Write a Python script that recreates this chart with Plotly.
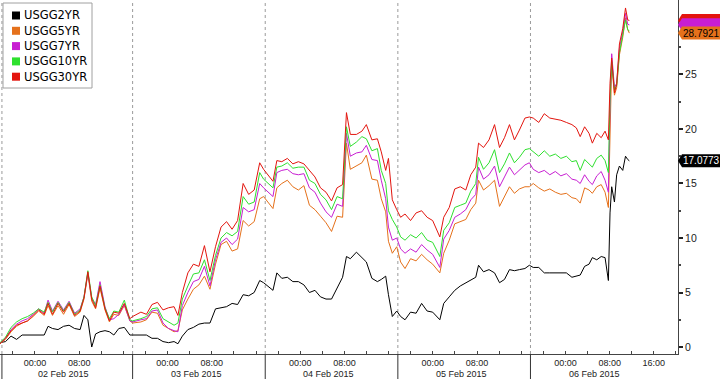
import plotly.graph_objects as go

# Trading-time axis: hours since start of the 02 Feb 2015 session
hours = [0, 1, 2, 3, 4, 5, 6, 7, 8, 8.7, 9.5, 10.5, 11.5, 12.5, 13.5, 14.5, 15.2, 15.9, 16.6, 17.3,
         18.1, 19.0, 19.8, 20.6, 21.5, 22.5, 23.5,
         24, 25.5, 26.5, 27.5, 28.5, 29.5, 30.5, 31.5, 32.2, 33, 34, 35, 36, 37, 38, 39, 40, 41, 42,
         43, 44, 45, 46, 47, 47.7,
         49.4, 50.1, 51, 52, 53, 54, 55, 56, 57, 58, 59, 60, 61, 62, 62.7, 63.4, 64.5, 65.5, 66.3,
         67.3, 68.3, 69, 69.8, 70.3, 71, 71.8,
         72.5, 73.3, 74.3, 75.3, 76.3, 77.3, 78.3, 79.6, 80.3, 81.3, 82.3, 83.3, 84.3, 85.2, 86.1,
         86.6, 87.5, 88.5, 89.5, 90.4, 91.3, 92.2, 93.1, 94, 95, 95.8,
         96.5, 97.5, 98.5, 99.5, 100.5, 101.5, 102.5, 103.5, 104.3, 105, 105.8, 106.6, 107.2, 108,
         108.8, 109.5, 110.1, 110.4, 110.7, 111.2, 111.6, 112.1, 112.7, 113.2, 113.6, 113.9]

usgg2yr = [0.4, 0.5, 1.0, 0.7, 1.1, 1.1, 1.1, 1.1, 1.1, 1.9, 1.7, 1.6, 1.9, 2.0, 1.7, 1.6, 2.9, 2.5, 0.0, 1.2,
           1.4, 1.5, 1.4, 1.1, 1.7, 1.8, 1.1,
           1.1, 1.1, 1.1, 0.8, 0.8, 0.5, 0.4, 0.5, 0.3, 1.0, 1.6, 1.8, 2.1, 2.2, 2.2, 3.5, 3.6, 3.7, 4.0,
           3.9, 4.8, 4.7, 5.0, 6.1, 5.9,
           5.2, 6.8, 6.3, 6.4, 6.0, 6.0, 5.7, 5.0, 5.2, 4.6, 4.4, 4.4, 5.4, 6.4, 8.3, 8.1, 8.7, 8.2, 7.8,
           6.3, 6.0, 6.2, 6.5, 4.8, 2.8, 3.3,
           2.8, 2.5, 3.2, 3.1, 4.0, 3.3, 3.2, 2.5, 4.0, 4.6, 5.2, 5.6, 5.9, 6.2, 6.4,
           7.5, 6.9, 7.1, 6.8, 5.9, 6.2, 7.1, 7.0, 7.1, 7.2, 7.5,
           7.3, 7.3, 6.8, 6.8, 6.8, 6.8, 6.8, 6.4, 6.5, 6.6, 7.4, 7.6, 8.2, 8.0,
           8.3, 8.2, 6.1, 12.3, 14.7, 13.3, 15.8, 16.6, 16.2, 17.5, 17.2, 17.0773]

usgg5yr = [0.3, 0.7, 1.4, 1.9, 2.2, 2.4, 2.8, 3.3, 2.9, 3.8, 2.9, 3.8, 3.0, 3.9, 2.8, 3.2, 4.4, 6.7, 4.2, 3.5,
           5.4, 3.4, 2.3, 3.0, 2.9, 3.8, 2.4,
           2.2, 2.3, 2.5, 3.2, 3.1, 2.0, 1.7, 1.4, 1.5, 3.4, 4.4, 5.3, 5.7, 6.5, 5.3, 7.6, 9.4, 9.7, 8.8,
           9.0, 11.6, 11.1, 11.5, 13.6, 13.8,
           12.7, 14.6, 15.0, 15.3, 14.7, 14.4, 14.8, 13.0, 12.6, 12.0, 11.4, 10.6, 12.0, 11.9, 18.7, 16.3, 16.6, 16.9, 17.6,
           15.4, 15.3, 13.6, 12.4, 9.7, 8.6, 9.2,
           7.8, 7.2, 8.1, 7.9, 8.5, 8.0, 7.6, 6.8, 8.6, 9.8, 11.3, 11.5, 11.7, 12.6, 13.2,
           15.3, 14.4, 14.8, 15.3, 12.9, 13.8, 14.7, 14.1, 14.5, 14.7, 14.7,
           15.0, 14.6, 14.3, 14.5, 14.2, 14.0, 14.1, 13.7, 13.6, 13.2, 14.6, 14.4, 14.1, 14.7,
           14.9, 14.2, 12.8, 21.0, 26.0, 23.1, 23.8, 26.8, 28.4, 30.2, 29.1, 28.7921]

usgg7yr = [0.35, 0.8, 1.6, 2.1, 2.4, 2.6, 3.0, 3.5, 3.1, 4.3, 3.3, 4.2, 3.4, 4.2, 3.1, 3.5, 4.6, 6.8, 4.5, 3.9,
           6.0, 3.7, 2.5, 2.6, 3.0, 3.9, 2.4,
           2.3, 2.5, 2.6, 3.3, 3.4, 2.2, 1.7, 1.5, 1.4, 3.8, 5.0, 6.0, 6.2, 7.4, 5.6, 8.0, 9.6, 10.0, 9.4,
           9.9, 12.8, 12.4, 12.6, 15.0, 14.6,
           13.8, 16.0, 16.2, 16.3, 15.9, 15.8, 15.9, 14.6, 14.2, 13.2, 12.4, 11.9, 13.1, 12.9, 19.6, 17.5, 17.8, 17.9, 18.5,
           17.2, 17.1, 15.3, 13.6, 11.0, 9.8, 10.0,
           9.0, 8.6, 9.0, 8.7, 9.4, 8.9, 8.5, 7.3, 9.9, 10.7, 11.9, 12.2, 12.6, 13.5, 14.0,
           16.5, 15.4, 15.8, 16.6, 14.7, 15.6, 16.5, 15.8, 16.2, 16.7, 16.9,
           16.3, 16.0, 16.2, 15.8, 16.1, 15.7, 15.9, 15.4, 15.3, 15.0, 15.8, 15.2, 14.9, 15.7,
           16.1, 15.3, 14.2, 22.0, 26.9, 23.8, 24.2, 27.4, 28.9, 30.6, 29.6, 29.55]

usgg10yr = [0.4, 0.9, 1.8, 2.3, 2.6, 2.8, 3.1, 3.5, 3.2, 4.1, 3.2, 4.1, 3.3, 4.1, 3.0, 3.4, 4.6, 7.0, 4.6, 3.8,
            5.7, 3.6, 2.6, 3.3, 3.2, 4.3, 2.5,
            2.4, 2.6, 2.8, 3.5, 3.6, 2.6, 2.3, 2.0, 2.2, 4.4, 5.6, 6.7, 6.8, 8.0, 6.1, 8.4, 10.0, 10.5, 10.2,
            10.6, 13.8, 13.1, 13.3, 16.0, 15.4,
            14.6, 16.5, 16.6, 16.9, 16.4, 16.5, 16.5, 15.3, 15.0, 14.0, 13.5, 12.6, 13.8, 13.6, 20.2, 18.4, 18.8, 19.3, 19.1,
            18.0, 18.2, 16.2, 15.0, 12.5, 11.7, 11.0,
            10.1, 9.8, 10.3, 10.0, 10.5, 9.8, 9.6, 8.3, 10.7, 11.4, 12.8, 13.0, 13.2, 14.3, 15.0,
            17.4, 16.3, 16.9, 18.1, 16.0, 16.8, 17.8, 16.9, 17.4, 18.1, 18.2,
            17.9, 17.5, 18.0, 17.5, 17.7, 17.3, 17.5, 17.0, 17.1, 16.2, 17.2, 16.8, 16.5, 17.3,
            17.6, 17.1, 16.0, 22.7, 26.2, 23.6, 24.0, 27.0, 28.5, 30.0, 29.1, 29.0]

usgg30yr = [0.3, 0.8, 1.5, 2.0, 2.2, 2.4, 2.9, 3.4, 3.0, 4.0, 3.0, 4.0, 3.2, 4.0, 2.9, 3.3, 4.5, 6.9, 4.4, 3.6,
            5.6, 3.5, 2.4, 3.2, 3.1, 4.0, 2.6,
            2.8, 3.2, 3.0, 3.9, 4.1, 3.4, 3.6, 3.7, 2.9, 5.0, 6.8, 7.6, 7.4, 9.3, 6.9, 9.2, 11.0, 11.5, 10.8,
            11.6, 15.0, 14.0, 14.4, 16.9, 16.3,
            15.2, 17.1, 17.0, 17.3, 16.8, 17.0, 16.8, 16.2, 15.6, 14.6, 14.2, 13.4, 14.6, 14.9, 21.5, 19.5, 19.5, 19.8, 20.4,
            19.0, 19.1, 17.9, 16.2, 17.3, 13.5, 12.6,
            11.9, 12.2, 11.6, 12.3, 12.5, 11.9, 11.6, 10.1, 11.9, 12.8, 14.5, 14.7, 14.4, 15.8, 16.5,
            18.7, 18.3, 19.0, 20.4, 18.3, 19.2, 20.4, 19.0, 19.9, 21.0, 21.1,
            21.0, 20.6, 21.4, 21.0, 20.9, 20.8, 20.6, 20.4, 20.1, 19.3, 20.2, 19.6, 18.7, 19.6,
            19.2, 19.8, 19.0, 24.2, 26.5, 23.3, 24.1, 27.8, 29.2, 31.1, 30.0, 29.95]

names = ["USGG2YR", "USGG5YR", "USGG7YR", "USGG10YR", "USGG30YR"]
series = [usgg2yr, usgg5yr, usgg7yr, usgg10yr, usgg30yr]
colors = ["#000000", "#E5711B", "#C81ED2", "#2EE02E", "#E3150E"]
day_labels = ["02 Feb 2015", "03 Feb 2015", "04 Feb 2015", "05 Feb 2015", "06 Feb 2015"]

W, H = 720, 379
ML, MR, MT, MB = 0, 42, 0, 25
PW, PH = W - ML - MR, H - MT - MB
YMIN, YMAX = -0.64, 31.83
UPP = (YMAX - YMIN) / PH  # data units per pixel

fig = go.Figure()
for name, ys, c in zip(names, series, colors):
    fig.add_trace(go.Scatter(x=hours, y=ys, mode="lines", name=name,
                             line=dict(color=c, width=1), showlegend=False,
                             hoverinfo="skip"))

# x ticks every 4 hours, labels at 00:00 / 08:00 (and 16:00 on last day)
tickvals, ticktext = [], []
t = 2.33
while t < 122.5:
    hod = round((t - 6.33) % 24)
    day = int(t // 24)
    if hod == 0:
        lab = "00:00"
    elif hod == 8:
        lab = "08:00"
    elif hod == 16 and day == 4:
        lab = "16:00"
    else:
        lab = ""
    tickvals.append(t)
    ticktext.append(lab)
    t += 4

shapes = []
annotations = []
day_starts = [0.35, 24, 48, 72, 96]
for i, d in enumerate(day_starts):
    shapes.append(dict(type="line", xref="x", yref="paper", x0=d, x1=d, y0=0, y1=1,
                       line=dict(color="#9a9a9a", width=1, dash="dot"), layer="below"))
    shapes.append(dict(type="line", xref="x", yref="paper", x0=d, x1=d, y0=-MB / PH, y1=0,
                       line=dict(color="#333333", width=1)))
    annotations.append(dict(xref="x", yref="paper", x=(11.5 if i == 0 else d + 11.5),
                            y=-20 / PH, yanchor="middle", xanchor="center", showarrow=False,
                            text=day_labels[i],
                            font=dict(family="Liberation Sans", size=9, color="#222222")))

# last-value tabs on the right axis: 30YR and 7YR sit behind the others
xr = 1 + MR / PW
xt = 1 + 4 / PW
hh = 6.5 * UPP
for idx in [4, 2]:
    v = series[idx][-1]
    shapes.append(dict(type="path", xref="paper", yref="y",
                       path=(f"M 1.0,{v} L {xt},{v + hh} L {xr},{v + hh} "
                             f"L {xr},{v - hh} L {xt},{v - hh} Z"),
                       fillcolor=colors[idx], line=dict(width=0), layer="above"))
for idx in [1, 0]:
    v = series[idx][-1]
    bg = colors[idx]
    fc = "#ffffff" if idx == 0 else "#000000"
    shapes.append(dict(type="path", xref="paper", yref="y",
                       path=(f"M 1.0,{v} L {xt},{v + hh} L {xr},{v + hh} "
                             f"L {xr},{v - hh} L {xt},{v - hh} Z"),
                       fillcolor=bg, line=dict(width=0), layer="above"))
    annotations.append(dict(xref="paper", yref="y", x=1, y=v, xanchor="left", yanchor="middle",
                            xshift=3, showarrow=False, text=f"{v:.4f}",
                            font=dict(family="Liberation Sans", size=10, color=fc)))

# legend box (manual, to match square swatches)
shapes.append(dict(type="rect", xref="paper", yref="paper", x0=3 / PW, x1=92 / PW,
                   y0=1 - 88 / PH, y1=1 - 3 / PH, fillcolor="#ffffff",
                   line=dict(color="#a0a0a0", width=1), layer="above"))
for i, (name, c) in enumerate(zip(names, colors)):
    cy = 15.5 + 15.3 * i
    shapes.append(dict(type="rect", xref="paper", yref="paper", x0=12 / PW, x1=20 / PW,
                       y0=1 - (cy + 4) / PH, y1=1 - (cy - 4) / PH, fillcolor=c,
                       line=dict(width=0), layer="above"))
    annotations.append(dict(xref="paper", yref="paper", x=22 / PW, y=1 - cy / PH,
                            xanchor="left", yanchor="middle", showarrow=False, text=name,
                            font=dict(family="DejaVu Sans", size=11.5, color="#000000")))

fig.update_layout(
    width=W, height=H,
    margin=dict(l=ML, r=MR, t=MT, b=MB),
    paper_bgcolor="#ffffff", plot_bgcolor="#ffffff",
    showlegend=False,
    xaxis=dict(range=[0, 122.7], showgrid=False, zeroline=False, showline=True,
               linecolor="#444444", linewidth=1, ticks="inside", ticklen=3,
               tickcolor="#444444", tickvals=tickvals, ticktext=ticktext,
               tickfont=dict(family="Liberation Sans", size=9, color="#222222")),
    yaxis=dict(range=[YMIN, YMAX], side="right", showgrid=False, zeroline=False,
               showline=True, linecolor="#444444", linewidth=1,
               tickvals=[0, 5, 10, 15, 20, 25], ticks="outside", ticklen=4,
               tickwidth=2, tickcolor="#222222",
               minor=dict(dtick=2.5, tick0=0, ticks="outside", ticklen=2, tickcolor="#444444"),
               tickfont=dict(family="Liberation Sans", size=10.5, color="#222222")),
    shapes=shapes,
    annotations=annotations,
)

fig.write_html("out.html")
